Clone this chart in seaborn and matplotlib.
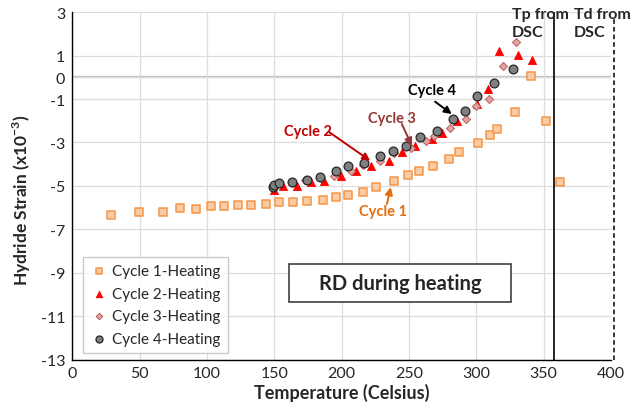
import matplotlib
matplotlib.use("Agg")
import matplotlib.pyplot as plt
from matplotlib.patches import Rectangle
import pandas as pd
import seaborn as sns

# Cycle 1 heating
c1_temp = [28.6, 49.4, 67.2, 80.3, 92.0, 103.1, 113.0, 123.2, 133.1, 144.0, 153.4,
           164.3, 174.2, 186.1, 196.0, 205.1, 215.8, 225.7, 238.6, 249.0, 257.2,
           267.8, 279.7, 287.6, 301.0, 310.4, 315.8, 329.0, 340.9, 351.8, 362.4]
c1_strain = [-6.33, -6.20, -6.19, -6.03, -6.05, -5.94, -5.94, -5.89, -5.88, -5.85, -5.76,
             -5.76, -5.70, -5.64, -5.51, -5.41, -5.30, -5.07, -4.79, -4.50, -4.33,
             -4.08, -3.76, -3.45, -3.02, -2.64, -2.38, -1.61, 0.05, -2.02, -4.83]

# Cycle 2 heating
c2_temp = [149.9, 156.9, 166.8, 177.2, 187.1, 199.7, 211.1, 222.0, 234.9, 245.0,
           254.9, 267.1, 274.7, 285.9, 300.5, 308.7, 317.3, 331.4, 341.8]
c2_strain = [-5.17, -5.02, -4.99, -4.83, -4.76, -4.56, -4.30, -4.07, -3.87, -3.45,
             -3.18, -2.84, -2.56, -2.02, -1.22, -0.53, 1.20, 1.03, 0.80]

# Cycle 3 heating
c3_temp = [150.5, 163.0, 173.0, 185.0, 194.5, 206.9, 216.0, 228.7, 239.0, 251.5, 262.6,
           268.8, 280.7, 292.6, 300.0, 309.7, 319.6, 329.5]
c3_strain = [-5.00, -4.88, -4.71, -4.65, -4.53, -4.30, -4.02, -3.84, -3.50, -3.24, -2.95,
             -2.69, -2.33, -1.90, -1.30, -1.00, 0.54, 1.62]

# Cycle 4 heating
c4_temp = [149.0, 149.9, 153.9, 163.1, 174.2, 184.1, 196.0, 204.9, 217.0, 228.7,
           238.1, 248.0, 258.2, 271.0, 282.7, 291.8, 300.7, 312.9, 327.0]
c4_strain = [-5.05, -4.96, -4.88, -4.83, -4.73, -4.61, -4.33, -4.10, -3.96, -3.64,
             -3.41, -3.18, -2.76, -2.48, -1.93, -1.55, -0.87, -0.27, 0.39]

series_names = ["Cycle 1-Heating", "Cycle 2-Heating", "Cycle 3-Heating", "Cycle 4-Heating"]
x_ticks = [0, 50, 100, 150, 200, 250, 300, 350, 400]
y_ticks = [3, 1, 0, -1, -3, -5, -7, -9, -11, -13]
tp_dsc = 357.5
td_dsc = 402.5

sns.set_style("white")
plt.rcParams["font.family"] = ["Lato", "DejaVu Sans"]
plt.rcParams["mathtext.fontset"] = "custom"
plt.rcParams["mathtext.bf"] = "Lato:bold"
plt.rcParams["mathtext.rm"] = "Lato"

frames = []
for name, t, s in zip(series_names, [c1_temp, c2_temp, c3_temp, c4_temp],
                      [c1_strain, c2_strain, c3_strain, c4_strain]):
    frames.append(pd.DataFrame({"Temperature": t, "Strain": s, "Series": name}))
df = pd.concat(frames, ignore_index=True)

styles = {
    "Cycle 1-Heating": dict(marker="s", facecolor="#FBCBA5", edgecolor="#F79646", s=30, lw=1.1),
    "Cycle 2-Heating": dict(marker="^", facecolor="#FF0000", edgecolor="#FF0000", s=34, lw=0.6),
    "Cycle 3-Heating": dict(marker="D", facecolor="#E0A3A1", edgecolor="#B85F5C", s=17, lw=0.7),
    "Cycle 4-Heating": dict(marker="o", facecolor="#808080", edgecolor="#262626", s=40, lw=0.9),
}

fig = plt.figure(figsize=(6.41, 4.10), dpi=100)
ax = fig.add_axes([0.1126, 0.1207, 0.8404, 0.8469])

for name in series_names:
    st = styles[name]
    sns.scatterplot(data=df[df["Series"] == name], x="Temperature", y="Strain",
                    marker=st["marker"], color=st["facecolor"], edgecolor=st["edgecolor"],
                    s=st["s"], linewidth=st["lw"], label=name, ax=ax, zorder=3)

ax.set_xlim(0, 400)
ax.set_ylim(-13, 3)
ax.set_xticks(x_ticks)
ax.set_yticks(y_ticks)
ax.set_yticklabels([str(v) for v in y_ticks])
ax.tick_params(axis="both", labelsize=11.5, direction="out", length=4, width=1,
               color="#000000", pad=1)
ax.grid(True, color="#DDDDDD", lw=0.9, zorder=0)
ax.set_axisbelow(True)
ax.axhline(0, color="#BEBEBE", lw=1.6, zorder=0.5)
for side in ["top", "right"]:
    ax.spines[side].set_visible(False)
for side in ["left", "bottom"]:
    ax.spines[side].set_color("#000000")
    ax.spines[side].set_linewidth(1.0)

ax.set_xlabel("Temperature (Celsius)", fontsize=13, fontweight="bold", labelpad=2)
ax.set_ylabel(r"Hydride Strain (x10$^{\mathbf{-3}}$)", fontsize=12.5, fontweight="bold")
ax.yaxis.set_label_coords(-0.072, 0.46)

# DSC reference temperatures
ax.axvline(tp_dsc, color="#000000", lw=1.2, zorder=2)
ax.plot([td_dsc, td_dsc], [-13, 2.7], color="#000000", lw=1.1, ls=(0, (3, 2)),
        clip_on=False, zorder=2)
ax.text(326.5, 3.25, "Tp from\nDSC", fontsize=11.5, fontweight="bold", ha="left", va="top",
        linespacing=1.4)
ax.text(372.5, 3.25, "Td from\nDSC", fontsize=11.5, fontweight="bold", ha="left", va="top",
        linespacing=1.4, clip_on=False)

# cycle callouts
callouts = [
    ("Cycle 2", "#C00000", (175.2, -2.46), (191.0, -2.53), (221.3, -3.84)),
    ("Cycle 3", "#953735", (237.4, -1.87), (244.8, -2.15), (252.2, -3.15)),
    ("Cycle 4", "#000000", (267.1, -0.57), (269.5, -1.12), (281.9, -1.69)),
    ("Cycle 1", "#E46C0A", (230.7, -6.14), (233.7, -5.83), (236.6, -5.06)),
]
for label, col, tpos, start, end in callouts:
    ax.text(tpos[0], tpos[1], label, color=col, fontsize=10.5, fontweight="bold",
            ha="center", va="center", zorder=5)
    ax.annotate("", xy=end, xytext=start,
                arrowprops=dict(arrowstyle="-|>", color=col, lw=1.4, mutation_scale=11,
                                shrinkA=0, shrinkB=0), zorder=5)

# boxed caption
ax.add_patch(Rectangle((0.4028, 0.1648), 0.4119, 0.1104, transform=ax.transAxes,
                       facecolor="white", edgecolor="#404040", lw=1.2, zorder=4))
ax.text(0.6088, 0.220, "RD during heating", transform=ax.transAxes, fontsize=14.5,
        fontweight="bold", ha="center", va="center", zorder=5)

leg = ax.legend(loc="lower left", bbox_to_anchor=(0.02, 0.018), borderaxespad=0,
                fontsize=11, frameon=True, fancybox=False, labelspacing=0.55,
                handletextpad=0.3, handlelength=1.1, borderpad=0.5, markerscale=0.8)
leg.get_frame().set_edgecolor("#BFBFBF")
leg.get_frame().set_linewidth(1.0)
leg.set_zorder(6)

fig.savefig("out.png", dpi=100)
